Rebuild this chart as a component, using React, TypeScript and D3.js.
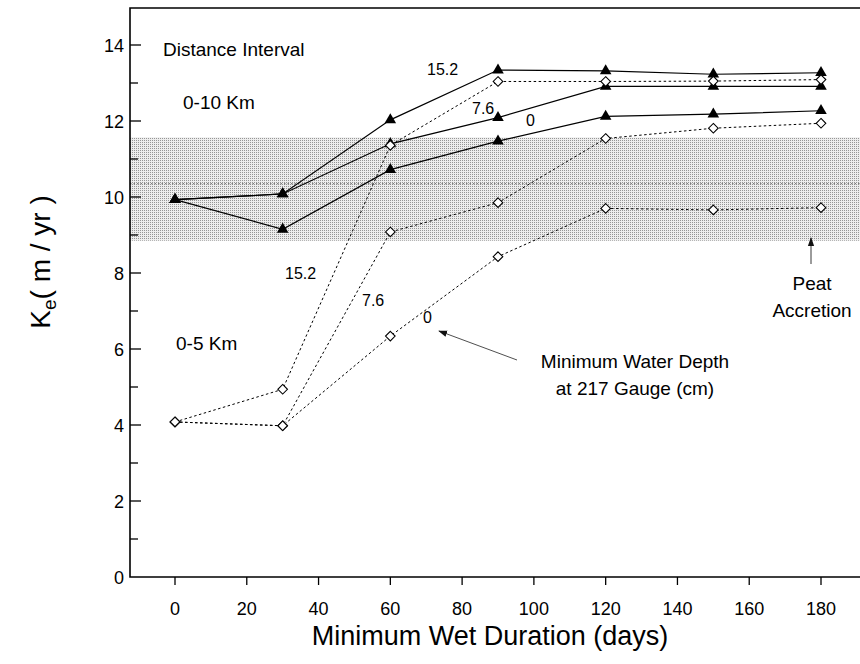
import React from "react";
import * as d3 from "d3";

// Minimum wet duration (days)
const days = [0, 30, 60, 90, 120, 150, 180];

// 0-10 Km distance interval (filled triangles, solid lines), by min water depth (cm)
const tri152 = [9.93, 10.08, 12.03, 13.34, 13.32, 13.23, 13.27];
const tri76 = [9.93, 10.08, 11.4, 12.09, 12.91, 12.91, 12.91];
const tri0 = [9.93, 9.15, 10.72, 11.47, 12.12, 12.18, 12.27];

// 0-5 Km distance interval (open diamonds, dashed lines)
const dia152 = [4.08, 4.94, 11.36, 13.04, 13.04, 13.05, 13.09];
const dia76 = [4.08, 3.98, 9.08, 9.85, 11.54, 11.81, 11.94];
const dia0 = [4.08, 3.98, 6.34, 8.43, 9.7, 9.66, 9.72];

// Peat accretion band (range and mean)
const peatRange = [8.85, 11.57];
const peatMean = 10.35;

const xTicks = [0, 20, 40, 60, 80, 100, 120, 140, 160, 180];
const yMinorTicks = [1, 2, 3, 4, 5, 6, 7, 8, 9, 10, 11, 12, 13, 14];
const yLabels = [0, 2, 4, 6, 8, 10, 12, 14];

const FONT = "'Liberation Sans', Arial, Helvetica, sans-serif";

export default function App() {
  const W = 860;
  const H = 664;
  const x = d3.scaleLinear().domain([0, 180]).range([175, 821]);
  const y = d3.scaleLinear().domain([0, 14]).range([577, 45]);
  const left = 130;
  const right = 862;
  const top = 8;
  const bottom = y(0);

  const line = d3
    .line<number>()
    .x((_, i) => x(days[i]))
    .y((v) => y(v));

  const triPath = d3.symbol(d3.symbolTriangle, 58)()!;
  const diaPath = "M0,-4.8L4.8,0L0,4.8L-4.8,0Z";

  const triSeries = [tri152, tri76, tri0];
  const diaSeries = [dia152, dia76, dia0];

  return (
    <svg
      width={W}
      height={H}
      style={{ position: "absolute", left: 0, top: 0, background: "#fff" }}
      fontFamily={FONT}
    >
      <defs>
        <pattern id="stip" width="2" height="2" patternUnits="userSpaceOnUse">
          <rect width="2" height="2" fill="#ededed" />
          <rect width="1" height="1" fill="#959595" />
        </pattern>
        <marker
          id="arr"
          viewBox="0 0 10 10"
          refX="9"
          refY="5"
          markerWidth="9"
          markerHeight="9"
          orient="auto"
          markerUnits="userSpaceOnUse"
        >
          <path d="M0,1.5L10,5L0,8.5Z" fill="#111" />
        </marker>
      </defs>

      {/* peat accretion band */}
      <rect
        x={left}
        y={y(peatRange[1])}
        width={right - left}
        height={y(peatRange[0]) - y(peatRange[1])}
        fill="url(#stip)"
      />
      <line
        x1={left}
        x2={right}
        y1={y(peatMean)}
        y2={y(peatMean)}
        stroke="#444"
        strokeWidth={0.8}
        strokeDasharray="1.5,2"
      />

      {/* frame */}
      <path
        d={`M${right},${top}H${left}V${bottom}H${right}`}
        fill="none"
        stroke="#000"
        strokeWidth={1.6}
      />

      {/* y ticks */}
      {yMinorTicks.map((t) => (
        <line
          key={"yt" + t}
          x1={left}
          x2={left + (t % 2 === 0 ? 11 : 8)}
          y1={y(t)}
          y2={y(t)}
          stroke="#000"
          strokeWidth={1.3}
        />
      ))}
      {yLabels.map((t) => (
        <text
          key={"yl" + t}
          x={124}
          y={y(t) + 6.5}
          textAnchor="end"
          fontSize={18}
        >
          {t}
        </text>
      ))}

      {/* x ticks */}
      {xTicks.map((t) => (
        <g key={"xt" + t}>
          <line
            x1={x(t)}
            x2={x(t)}
            y1={bottom}
            y2={bottom + 8}
            stroke="#000"
            strokeWidth={1.3}
          />
          <text x={x(t)} y={bottom + 38} textAnchor="middle" fontSize={18}>
            {t}
          </text>
        </g>
      ))}

      {/* axis titles */}
      <text x={490} y={645} textAnchor="middle" fontSize={27}>
        Minimum Wet Duration (days)
      </text>
      <text
        transform={`translate(50,262) rotate(-90)`}
        textAnchor="middle"
        fontSize={28}
      >
        K<tspan fontSize={19} dy={6}>e</tspan>
        <tspan dy={-6}>( m / yr )</tspan>
      </text>

      {/* triangle series (0-10 Km) */}
      {triSeries.map((s, i) => (
        <path
          key={"tl" + i}
          d={line(s)!}
          fill="none"
          stroke="#000"
          strokeWidth={1.2}
        />
      ))}
      {/* diamond series (0-5 Km) */}
      {diaSeries.map((s, i) => (
        <path
          key={"dl" + i}
          d={line(s)!}
          fill="none"
          stroke="#000"
          strokeWidth={1}
          strokeDasharray="2.5,2.5"
        />
      ))}
      {triSeries.map((s, i) =>
        s.map((v, j) => (
          <path
            key={`tm${i}-${j}`}
            d={triPath}
            transform={`translate(${x(days[j])},${y(v)})`}
            fill="#000"
          />
        ))
      )}
      {diaSeries.map((s, i) =>
        s.map((v, j) => (
          <path
            key={`dm${i}-${j}`}
            d={diaPath}
            transform={`translate(${x(days[j])},${y(v)})`}
            fill="#fff"
            stroke="#000"
            strokeWidth={1.1}
          />
        ))
      )}

      {/* annotations */}
      <g fontSize={16}>
        <text x={163} y={56} fontSize={19}>Distance Interval</text>
        <text x={183} y={109} fontSize={19}>0-10 Km</text>
        <text x={176} y={350} fontSize={19}>0-5 Km</text>

        <text x={427} y={75}>15.2</text>
        <text x={472} y={114}>7.6</text>
        <text x={526} y={126}>0</text>

        <text x={285} y={279}>15.2</text>
        <text x={362} y={306}>7.6</text>
        <text x={423} y={323}>0</text>

        <text x={635} y={368} fontSize={19} textAnchor="middle">
          Minimum Water Depth
        </text>
        <text x={635} y={395} fontSize={19} textAnchor="middle">
          at 217 Gauge (cm)
        </text>
        <line
          x1={517}
          y1={360}
          x2={439}
          y2={331}
          stroke="#222"
          strokeWidth={0.8}
          markerEnd="url(#arr)"
        />

        <text x={812} y={290} fontSize={19} textAnchor="middle">Peat</text>
        <text x={812} y={317} fontSize={19} textAnchor="middle">Accretion</text>
        <line
          x1={811}
          y1={264}
          x2={811}
          y2={238}
          stroke="#222"
          strokeWidth={0.9}
          markerEnd="url(#arr)"
        />
      </g>
    </svg>
  );
}
